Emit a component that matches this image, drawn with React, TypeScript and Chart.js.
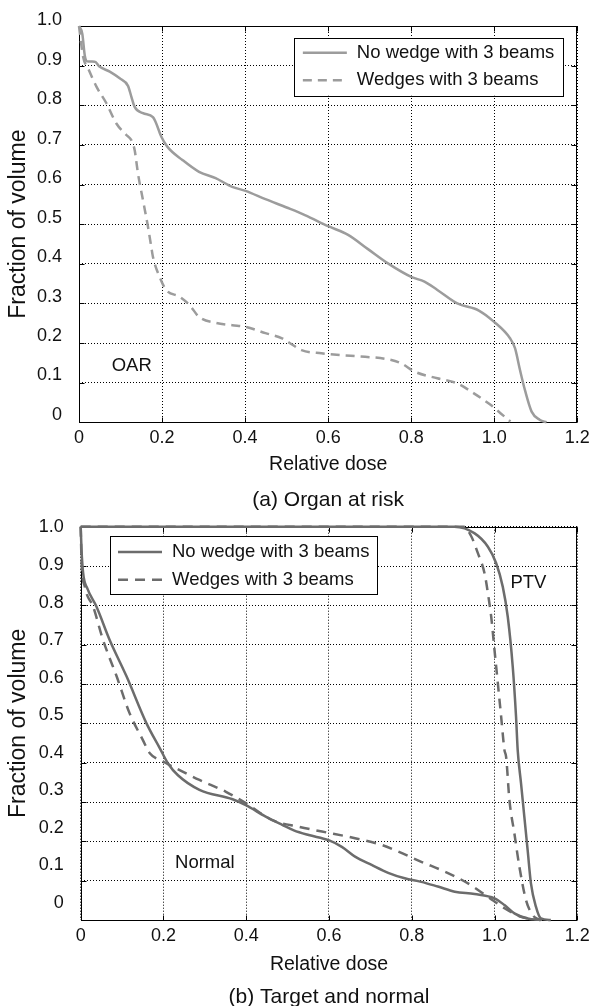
import React, { useEffect, useRef } from 'react';
import { Chart, registerables } from 'chart.js';

Chart.register(...registerables);

const FONT = "'Liberation Sans', Arial, Helvetica, sans-serif";

// ---------- axis ticks / texts ----------
const xTickValues = [0, 0.2, 0.4, 0.6, 0.8, 1.0, 1.2];
const xTickLabels = ['0', '0.2', '0.4', '0.6', '0.8', '1.0', '1.2'];
const yTickValues = [0, 0.1, 0.2, 0.3, 0.4, 0.5, 0.6, 0.7, 0.8, 0.9, 1.0];
const yTickLabels = ['0', '0.1', '0.2', '0.3', '0.4', '0.5', '0.6', '0.7', '0.8', '0.9', '1.0'];
const legendLabels = ['No wedge with 3 beams', 'Wedges with 3 beams'];
const xTitle = 'Relative dose';
const yTitle = 'Fraction of volume';
const captionA = '(a) Organ at risk';
const captionB = '(b) Target and normal';

// ---------- (a) Organ at risk ----------
const oarNoWedgeDose = [0, 0.008, 0.014, 0.019, 0.038, 0.05, 0.074, 0.098, 0.118, 0.126, 0.134, 0.154, 0.178, 0.186, 0.198, 0.213, 0.249, 0.289, 0.329, 0.369, 0.401, 0.449, 0.5, 0.544, 0.6, 0.648, 0.696, 0.744, 0.8, 0.832, 0.863, 0.911, 0.963, 0.999, 1.038, 1.05, 1.062, 1.074, 1.09, 1.11, 1.126];
const oarNoWedgeVolume = [1.0, 0.98, 0.925, 0.911, 0.91, 0.897, 0.885, 0.868, 0.849, 0.822, 0.796, 0.78, 0.77, 0.754, 0.721, 0.695, 0.662, 0.632, 0.616, 0.594, 0.584, 0.563, 0.542, 0.523, 0.495, 0.473, 0.437, 0.401, 0.367, 0.355, 0.334, 0.3, 0.282, 0.254, 0.212, 0.187, 0.132, 0.081, 0.027, 0.006, 0];
const oarWedgeDose = [0, 0.01, 0.022, 0.042, 0.066, 0.09, 0.114, 0.126, 0.134, 0.142, 0.154, 0.166, 0.174, 0.178, 0.194, 0.21, 0.242, 0.266, 0.289, 0.329, 0.369, 0.401, 0.449, 0.489, 0.515, 0.536, 0.584, 0.664, 0.744, 0.776, 0.808, 0.863, 0.911, 0.951, 0.991, 1.015, 1.039];
const oarWedgeVolume = [1.0, 0.922, 0.893, 0.847, 0.805, 0.754, 0.725, 0.712, 0.687, 0.628, 0.561, 0.494, 0.443, 0.418, 0.367, 0.334, 0.317, 0.296, 0.266, 0.251, 0.245, 0.241, 0.225, 0.212, 0.195, 0.182, 0.174, 0.167, 0.159, 0.149, 0.128, 0.111, 0.098, 0.073, 0.044, 0.023, 0.002];

// ---------- (b) Target and normal ----------
const normalNoWedgeDose = [0, 0.002, 0.006, 0.016, 0.038, 0.07, 0.111, 0.159, 0.191, 0.211, 0.235, 0.287, 0.367, 0.399, 0.447, 0.487, 0.515, 0.551, 0.599, 0.631, 0.663, 0.703, 0.743, 0.783, 0.823, 0.863, 0.904, 0.952, 1.0, 1.024, 1.048, 1.08, 1.112];
const normalNoWedgeVolume = [1.0, 0.941, 0.881, 0.843, 0.797, 0.712, 0.619, 0.5, 0.437, 0.398, 0.368, 0.331, 0.307, 0.292, 0.263, 0.242, 0.228, 0.216, 0.203, 0.186, 0.161, 0.14, 0.12, 0.106, 0.097, 0.085, 0.072, 0.066, 0.055, 0.038, 0.017, 0.004, 0];
const normalWedgeDose = [0, 0.002, 0.01, 0.03, 0.054, 0.087, 0.118, 0.15, 0.167, 0.199, 0.239, 0.287, 0.351, 0.399, 0.463, 0.527, 0.583, 0.663, 0.727, 0.767, 0.823, 0.88, 0.936, 0.984, 1.024, 1.064, 1.088, 1.11];
const normalWedgeVolume = [1.0, 0.915, 0.847, 0.797, 0.712, 0.619, 0.526, 0.458, 0.424, 0.403, 0.381, 0.356, 0.326, 0.297, 0.254, 0.237, 0.225, 0.208, 0.191, 0.174, 0.148, 0.123, 0.093, 0.059, 0.03, 0.008, 0.003, 0];
const ptvNoWedgeDose = [0, 0.903, 0.952, 0.984, 1.004, 1.02, 1.032, 1.044, 1.052, 1.056, 1.064, 1.072, 1.08, 1.088, 1.1, 1.112, 1.136];
const ptvNoWedgeVolume = [1.0, 1.0, 0.983, 0.949, 0.907, 0.847, 0.771, 0.644, 0.517, 0.432, 0.348, 0.263, 0.178, 0.093, 0.034, 0.004, 0];
const ptvWedgeDose = [0, 0.925, 0.944, 0.96, 0.976, 0.984, 0.992, 1.0, 1.008, 1.016, 1.024, 1.028, 1.036, 1.048, 1.06, 1.076, 1.092, 1.104, 1.12];
const ptvWedgeVolume = [1.0, 1.0, 0.975, 0.932, 0.881, 0.831, 0.771, 0.686, 0.602, 0.517, 0.432, 0.415, 0.305, 0.22, 0.136, 0.051, 0.013, 0.003, 0];

const GRAY_A = '#9c9c9c';
const GRAY_B = '#6c6c6c';

type Series = { label: string; x: number[]; y: number[]; color: string; dash: number[] };
type Note = { text: string; x: number; y: number };

interface PanelSpec {
  series: Series[];
  legendCount: number;
  caption: string;
  notes: Note[];
  width: number;
  height: number;
  pad: { top: number; right: number; bottom: number; left: number };
  yTitleWidth: number;
  yLabelWidth: number;
  yLabelMin: number;
  yLabelMax: number;
  xAxisHeight: number;
  xTitlePadBottom: number;
  legend: { anchor: 'left' | 'right'; insetX: number; insetY: number; height: number; firstRow: number; rowGap: number; padLeft: number; padRight: number; sample: number; gap: number };
}

const toPoints = (xs: number[], ys: number[]) => xs.map((x, i) => ({ x, y: ys[i] }));

function makeConfig(spec: PanelSpec): any {
  const framePlugin = {
    id: 'frameTicks',
    beforeDatasetsDraw(chart: any) {
      const { ctx, chartArea, scales } = chart;
      const L = Math.round(chartArea.left) + 0.5;
      const R = Math.round(chartArea.right) - 0.5;
      const T = Math.round(chartArea.top) + 0.5;
      const B = Math.round(chartArea.bottom) + 0.5;
      ctx.save();
      ctx.strokeStyle = '#000';
      ctx.lineWidth = 1;
      ctx.setLineDash([]);
      ctx.strokeRect(L, T, R - L, B - T);
      const tl = 5;
      ctx.beginPath();
      xTickValues.forEach((v) => {
        const px = Math.round(scales.x.getPixelForValue(v)) + 0.5;
        ctx.moveTo(px, B); ctx.lineTo(px, B - tl);
        ctx.moveTo(px, T); ctx.lineTo(px, T + tl);
      });
      yTickValues.forEach((v) => {
        const py = Math.round(scales.y.getPixelForValue(v)) + 0.5;
        ctx.moveTo(L, py); ctx.lineTo(L + tl, py);
        ctx.moveTo(R, py); ctx.lineTo(R - tl, py);
      });
      ctx.stroke();
      ctx.restore();
    },
  };

  const legendPlugin = {
    id: 'boxLegend',
    afterDatasetsDraw(chart: any) {
      const { ctx, chartArea } = chart;
      const o = spec.legend;
      const items = spec.series.slice(0, spec.legendCount);
      ctx.save();
      ctx.font = `18.5px ${FONT}`;
      const textW = Math.max(...items.map((it) => ctx.measureText(it.label).width));
      const w = o.padLeft + o.sample + o.gap + textW + o.padRight;
      const left = o.anchor === 'right' ? chartArea.right - o.insetX - w : chartArea.left + o.insetX;
      const top = chartArea.top + o.insetY;
      ctx.fillStyle = '#fff';
      ctx.fillRect(left, top, w, o.height);
      ctx.strokeStyle = '#000';
      ctx.lineWidth = 1;
      ctx.strokeRect(Math.round(left) + 0.5, Math.round(top) + 0.5, Math.round(w), Math.round(o.height));
      items.forEach((it, i) => {
        const cy = top + o.firstRow + i * o.rowGap;
        ctx.beginPath();
        ctx.setLineDash(it.dash);
        ctx.strokeStyle = it.color;
        ctx.lineWidth = 2.5;
        ctx.moveTo(left + o.padLeft, cy);
        ctx.lineTo(left + o.padLeft + o.sample, cy);
        ctx.stroke();
        ctx.setLineDash([]);
        ctx.fillStyle = '#111';
        ctx.textAlign = 'left';
        ctx.textBaseline = 'middle';
        ctx.fillText(it.label, left + o.padLeft + o.sample + o.gap, cy);
      });
      ctx.restore();
    },
  };

  const notesPlugin = {
    id: 'notes',
    afterDatasetsDraw(chart: any) {
      const { ctx, scales } = chart;
      ctx.save();
      ctx.font = `18.5px ${FONT}`;
      ctx.fillStyle = '#111';
      ctx.textAlign = 'center';
      ctx.textBaseline = 'middle';
      spec.notes.forEach((n) => {
        ctx.fillText(n.text, scales.x.getPixelForValue(n.x), scales.y.getPixelForValue(n.y));
      });
      ctx.restore();
    },
  };

  const gridOpts = { color: '#000', lineWidth: 1, drawTicks: false };

  return {
    type: 'line',
    data: {
      datasets: spec.series.map((s) => ({
        label: s.label,
        data: toPoints(s.x, s.y),
        borderColor: s.color,
        backgroundColor: s.color,
        borderWidth: 2.5,
        borderDash: s.dash,
        pointRadius: 0,
        fill: false,
        cubicInterpolationMode: 'monotone',
        clip: false,
        xAxisID: 'x',
        yAxisID: 'y',
      })),
    },
    options: {
      responsive: false,
      animation: false,
      devicePixelRatio: 1,
      layout: { padding: spec.pad },
      plugins: {
        legend: { display: false },
        tooltip: { enabled: false },
        title: {
          display: true,
          text: spec.caption,
          position: 'bottom',
          fullSize: false,
          color: '#111',
          font: { family: FONT, size: 21, weight: 'normal', lineHeight: 0.8 },
          padding: 0,
        },
      },
      scales: {
        x: {
          type: 'linear',
          position: 'bottom',
          min: 0,
          max: 1.2,
          afterBuildTicks: (s: any) => { s.ticks = xTickValues.map((v) => ({ value: v })); },
          afterFit: (s: any) => { s.height = spec.xAxisHeight; },
          ticks: {
            callback: (_v: any, i: number) => xTickLabels[i],
            font: { family: FONT, size: 18 },
            color: '#111',
            padding: 5.2,
            maxRotation: 0,
            autoSkip: false,
          },
          grid: gridOpts,
          border: { display: false, dash: [1, 2] },
          title: {
            display: true,
            text: xTitle,
            color: '#111',
            font: { family: FONT, size: 19.5 },
            padding: { top: 0, bottom: spec.xTitlePadBottom },
          },
        },
        y: {
          type: 'linear',
          position: 'left',
          weight: 1,
          min: 0,
          max: 1,
          afterBuildTicks: (s: any) => { s.ticks = yTickValues.map((v) => ({ value: v })); },
          afterFit: (s: any) => { s.width = spec.yTitleWidth; },
          ticks: { display: false },
          grid: gridOpts,
          border: { display: false, dash: [1, 2] },
          title: {
            display: true,
            text: yTitle,
            color: '#111',
            font: { family: FONT, size: 23 },
            padding: { top: 4.6, bottom: 0 },
          },
        },
        yl: {
          type: 'linear',
          position: 'left',
          weight: 0,
          min: spec.yLabelMin,
          max: spec.yLabelMax,
          afterBuildTicks: (s: any) => { s.ticks = yTickValues.map((v) => ({ value: v })); },
          afterFit: (s: any) => { s.width = spec.yLabelWidth; },
          ticks: {
            callback: (_v: any, i: number) => yTickLabels[i],
            font: { family: FONT, size: 18 },
            color: '#111',
            padding: 9,
            autoSkip: false,
          },
          grid: { display: false },
          border: { display: false },
        },
      },
    },
    plugins: [framePlugin, notesPlugin, legendPlugin],
  };
}

const panelA: PanelSpec = {
  series: [
    { label: legendLabels[0], x: oarNoWedgeDose, y: oarNoWedgeVolume, color: GRAY_A, dash: [] },
    { label: legendLabels[1], x: oarWedgeDose, y: oarWedgeVolume, color: GRAY_A, dash: [9, 6] },
  ],
  legendCount: 2,
  caption: captionA,
  notes: [{ text: 'OAR', x: 0.127, y: 0.142 }],
  width: 595,
  height: 512,
  pad: { top: 26, right: 14, bottom: 3.6, left: 0 },
  yTitleWidth: 30,
  yLabelWidth: 49,
  yLabelMin: -0.0185,
  yLabelMax: 0.9855,
  xAxisHeight: 69.3,
  xTitlePadBottom: 15.4,
  legend: { anchor: 'right', insetX: 14.3, insetY: 11.7, height: 58, firstRow: 15, rowGap: 27.5, padLeft: 9.3, padRight: 8.7, sample: 44, gap: 10 },
};

const panelB: PanelSpec = {
  series: [
    { label: legendLabels[0], x: normalNoWedgeDose, y: normalNoWedgeVolume, color: GRAY_B, dash: [] },
    { label: legendLabels[1], x: normalWedgeDose, y: normalWedgeVolume, color: GRAY_B, dash: [10, 7] },
    { label: 'PTV ' + legendLabels[0], x: ptvNoWedgeDose, y: ptvNoWedgeVolume, color: GRAY_B, dash: [] },
    { label: 'PTV ' + legendLabels[1], x: ptvWedgeDose, y: ptvWedgeVolume, color: GRAY_B, dash: [10, 7] },
  ],
  legendCount: 2,
  caption: captionB,
  notes: [
    { text: 'Normal', x: 0.3, y: 0.144 },
    { text: 'PTV', x: 1.082, y: 0.856 },
  ],
  width: 595,
  height: 506,
  pad: { top: 26.7, right: 15, bottom: 0, left: 0 },
  yTitleWidth: 30,
  yLabelWidth: 50.7,
  yLabelMin: -0.0453,
  yLabelMax: 1.002,
  xAxisHeight: 69.2,
  xTitlePadBottom: 13,
  legend: { anchor: 'left', insetX: 29.3, insetY: 9.3, height: 58.3, firstRow: 16, rowGap: 27.8, padLeft: 8, padRight: 7.3, sample: 44, gap: 10 },
};

function Panel({ spec, top }: { spec: PanelSpec; top: number }) {
  const ref = useRef<HTMLCanvasElement>(null);
  useEffect(() => {
    if (!ref.current) return;
    const chart = new Chart(ref.current, makeConfig(spec));
    return () => chart.destroy();
  }, [spec]);
  return (
    <div style={{ position: 'absolute', left: 0, top, width: spec.width, height: spec.height }}>
      <canvas ref={ref} width={spec.width} height={spec.height} style={{ display: 'block' }} />
    </div>
  );
}

export default function App() {
  return (
    <div style={{ position: 'absolute', left: 0, top: 0, width: 595, height: 1006, background: '#fff', overflow: 'hidden' }}>
      <Panel spec={panelA} top={0} />
      <Panel spec={panelB} top={500} />
    </div>
  );
}
